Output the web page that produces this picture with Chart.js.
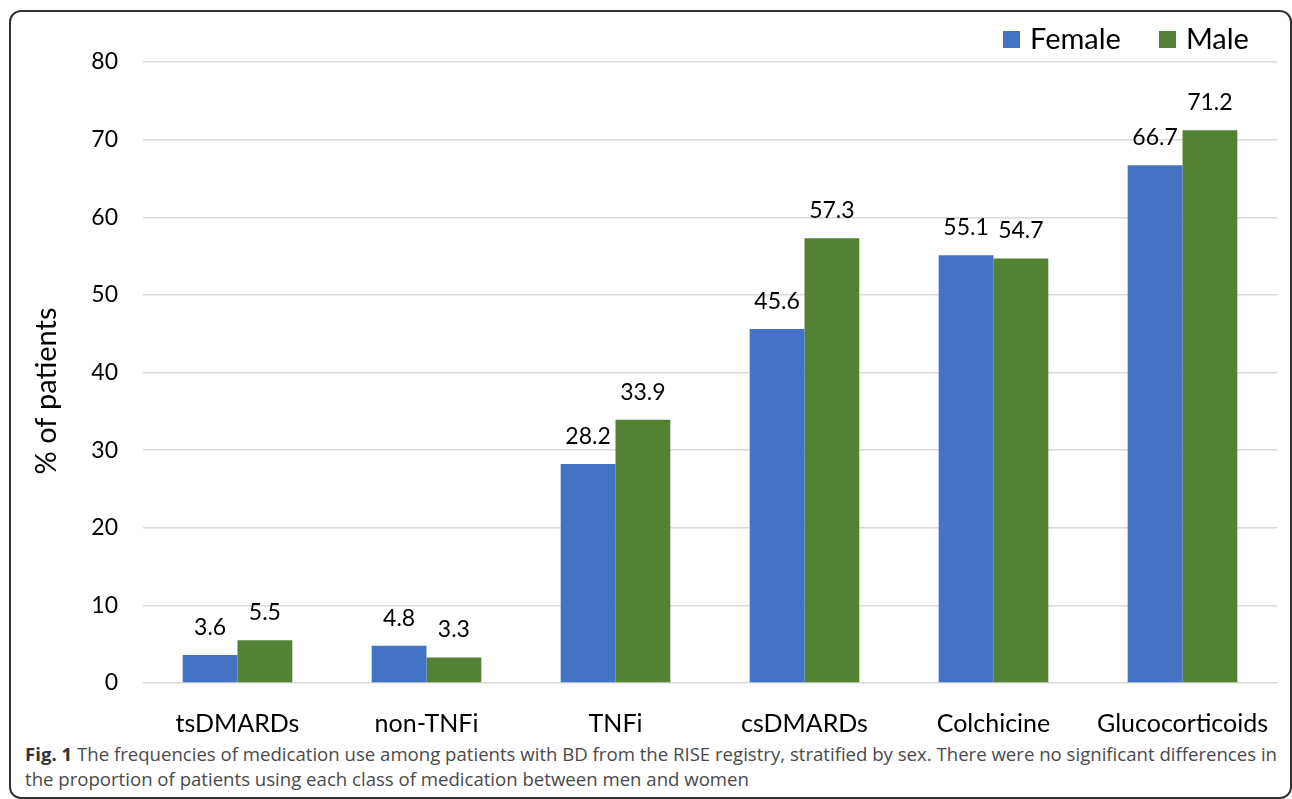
<!DOCTYPE html>
<html>
<head>
<meta charset="utf-8">
<script src="https://cdn.jsdelivr.net/npm/chart.js@4.4.0/dist/chart.umd.min.js"></script>
<style>
  body { margin: 0; background: #fff; }
  #frame {
    position: absolute; left: 9px; top: 10px; width: 1279px; height: 785px;
    border: 2px solid #333; border-radius: 12px;
  }
  #chartBox { position: absolute; left: 0; top: 0; width: 1292px; height: 740px; }
  #legend { position: absolute; top: 20px; left: 1003px; font: 29px Lato, sans-serif; color: #000; white-space: nowrap; }
  #legend span.item { display: inline-block; margin-right: 38px; }
  #legend span.sw { display: inline-block; width: 17px; height: 17px; margin-right: 10px; vertical-align: 1px; }
  #caption {
    position: absolute; left: 25px; top: 741px; width: 1262px;
    font: 18.6px "Open Sans", sans-serif; color: #4a4a4a; line-height: 25px; white-space: nowrap;
  }
  #caption b { color: #333; }
</style>
</head>
<body>
<div id="frame"></div>
<div id="chartBox"><canvas id="meds" width="1292" height="740"></canvas></div>
<div id="legend"></div>
<div id="caption"><b>Fig. 1</b> The frequencies of medication use among patients with BD from the RISE registry, stratified by sex. There were no significant differences in<br>the proportion of patients using each class of medication between men and women</div>
<script>
var categories = ["tsDMARDs", "non-TNFi", "TNFi", "csDMARDs", "Colchicine", "Glucocorticoids"];
var female = [3.6, 4.8, 28.2, 45.6, 55.1, 66.7];
var male = [5.5, 3.3, 33.9, 57.3, 54.7, 71.2];
var seriesNames = ["Female", "Male"];
var seriesColors = ["#4472C4", "#548235"];
var yTitle = '% of patients';

// legend in html, built from the series
var legendHtml = '';
seriesNames.forEach(function (name, i) {
    legendHtml += '<span class="item"><span class="sw" style="background:' + seriesColors[i] + '"></span>' + name + '</span>';
});
document.getElementById('legend').innerHTML = legendHtml;

// value labels on top of each bar + y title centred like Excel does it
var barValues = {
    id: 'barValues',
    afterDatasetsDraw: function (chart) {
        var ctx = chart.ctx;
        ctx.save();
        ctx.font = '23px Lato, sans-serif';
        ctx.fillStyle = '#000';
        ctx.textAlign = 'center';
        ctx.textBaseline = 'alphabetic';
        chart.data.datasets.forEach(function (ds, i) {
            chart.getDatasetMeta(i).data.forEach(function (bar, j) {
                ctx.fillText(ds.data[j].toFixed(1), bar.x, bar.y - 20);
            });
        });
        // axis title over plot + category labels
        var xs = chart.scales.x;
        var midY = (chart.chartArea.top + xs.bottom - 20) / 2;
        ctx.translate(47, midY);
        ctx.rotate(-Math.PI / 2);
        ctx.font = '29px Lato, sans-serif';
        ctx.textBaseline = 'middle';
        ctx.fillText(yTitle, 0, 0);
        ctx.restore();
    }
};

var ctx1 = document.getElementById('meds').getContext('2d');

var medsChart = new Chart(ctx1, {
    type: 'bar',
    data: {
        labels: categories,
        datasets: [
            { label: seriesNames[0], data: female, backgroundColor: seriesColors[0] },
            { label: seriesNames[1], data: male, backgroundColor: seriesColors[1] }
        ]
    },
    options: {
        responsive: false,
        animation: false,
        devicePixelRatio: 1,
        layout: { padding: { top: 62, right: 15, left: 0, bottom: 0 } },
        categoryPercentage: 0.58,
        barPercentage: 1.0,
        plugins: {
            legend: { display: false },
            tooltip: { enabled: false }
        },
        scales: {
            x: {
                grid: { display: false },
                border: { display: false },
                ticks: { padding: 18, color: '#000', font: { family: 'Lato', size: 25 } },
                afterFit: function (s) { s.height = 57; }
            },
            y: {
                min: 0,
                max: 80,
                ticks: { stepSize: 10, padding: 25, color: '#000', font: { family: 'Lato', size: 23 } },
                grid: { color: '#D9D9D9', lineWidth: 1.5, drawTicks: false },
                border: { display: false },
                afterFit: function (s) { s.width = 143; }
            }
        }
    },
    plugins: [barValues]
});
</script>
</body>
</html>
